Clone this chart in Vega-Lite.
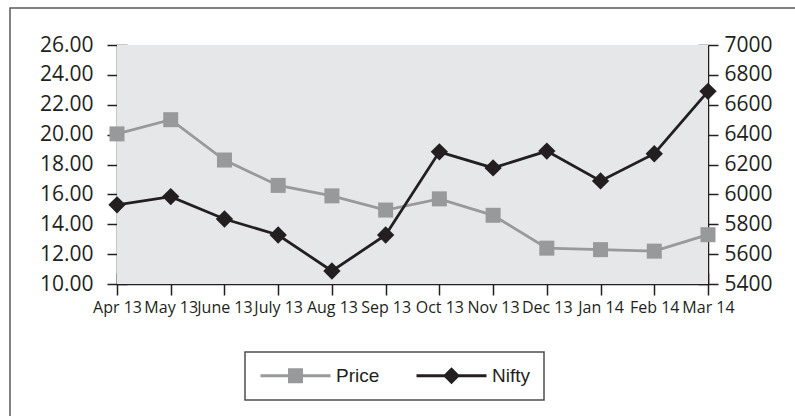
{
  "$schema": "https://vega.github.io/schema/vega-lite/v6.json",
  "width": 785,
  "height": 408,
  "autosize": {"type": "none"},
  "padding": {"left": 10, "top": 8, "right": 0, "bottom": 0},
  "background": "white",
  "config": {
    "view": {"fill": "white", "stroke": "#58595b", "strokeWidth": 1.5, "strokeDash": [785, 1193, 408]},
    "axis": {"domainColor": "#231f20", "tickColor": "#231f20", "domainWidth": 1.5, "tickWidth": 1.5, "grid": false, "title": null, "labelColor": "#231f20"}
  },
  "data": {
    "values": [
      {"month": "Apr 13", "price": 20.05, "nifty": 5930},
      {"month": "May 13", "price": 21.0, "nifty": 5985},
      {"month": "June 13", "price": 18.3, "nifty": 5835},
      {"month": "July 13", "price": 16.6, "nifty": 5728},
      {"month": "Aug 13", "price": 15.9, "nifty": 5487},
      {"month": "Sep 13", "price": 14.95, "nifty": 5728},
      {"month": "Oct 13", "price": 15.7, "nifty": 6285},
      {"month": "Nov 13", "price": 14.6, "nifty": 6177},
      {"month": "Dec 13", "price": 12.4, "nifty": 6290},
      {"month": "Jan 14", "price": 12.3, "nifty": 6090},
      {"month": "Feb 14", "price": 12.2, "nifty": 6272},
      {"month": "Mar 14", "price": 13.3, "nifty": 6690}
    ]
  },
  "layer": [
    {
      "mark": {"type": "rect", "color": "#e6e7e8"},
      "encoding": {
        "x": {"datum": "Apr 13", "type": "ordinal", "axis": null,
              "scale": {"type": "point", "padding": 0, "range": [107, 698],
                        "domain": ["Apr 13", "May 13", "June 13", "July 13", "Aug 13", "Sep 13", "Oct 13", "Nov 13", "Dec 13", "Jan 14", "Feb 14", "Mar 14"]}},
        "x2": {"datum": "Mar 14"},
        "y": {"datum": 10, "type": "quantitative", "scale": {"domain": [10, 26], "nice": false, "zero": false, "range": [276, 37]}, "axis": null},
        "y2": {"datum": 26}
      }
    },
    {
      "mark": {"type": "line", "strokeWidth": 2.8},
      "encoding": {
        "x": {"field": "month", "type": "ordinal",
              "axis": {"orient": "bottom", "offset": -132, "tickSize": 11, "labelPadding": 4, "labelAngle": 0, "labelFont": "Open Sans", "labelFontSize": 16, "labelOverlap": false, "labelBound": false}},
        "y": {"field": "price", "type": "quantitative", "scale": {"domain": [10, 26], "nice": false, "zero": false, "range": [276, 37]},
              "axis": {"orient": "left", "offset": -107, "values": [10, 12, 14, 16, 18, 20, 22, 24, 26], "format": ".2f", "tickSize": 10, "labelPadding": 14, "labelFont": "Open Sans", "labelFontSize": 21}},
        "color": {"datum": "Price", "type": "nominal",
          "scale": {"domain": ["Price", "Nifty"], "range": ["#97999b", "#231f20"]},
          "legend": {
            "orient": "none", "legendX": 235, "legendY": 344, "direction": "horizontal", "title": null,
            "symbolSize": 256, "symbolOffset": 27, "labelOffset": 31, "columnPadding": 35, "padding": 14,
            "labelFont": "Liberation Sans", "labelFontSize": 19, "labelColor": "#231f20",
            "strokeColor": "#4d4d4f", "fillColor": "white",
            "encode": {
              "symbols": {"update": {
                "shape": {"signal": "datum.value === 'Price' ? 'M-4.375,-0.19H4.375V0.19H-4.375Z M-0.94,-0.94H0.94V0.94H-0.94Z' : 'M-4.375,-0.19H4.375V0.19H-4.375Z M0,-1.06L1.06,0L0,1.06L-1.06,0Z'"},
                "fill": {"scale": "color", "field": "value"},
                "strokeWidth": {"value": 0}
              }},
              "legend": {"update": {"strokeWidth": {"value": 1.5}}}
            }
          }}
      }
    },
    {
      "mark": {"type": "point", "shape": "square", "size": 225, "filled": true, "opacity": 1},
      "encoding": {
        "x": {"field": "month", "type": "ordinal",
              "axis": {"orient": "bottom", "offset": -132, "tickSize": -11, "labels": false, "domain": false}},
        "y": {"field": "price", "type": "quantitative", "scale": {"domain": [10, 26], "nice": false, "zero": false, "range": [276, 37]},
              "axis": {"orient": "left", "offset": -107, "values": [10, 12, 14, 16, 18, 20, 22, 24, 26], "tickSize": -10, "labels": false, "domain": false}},
        "color": {"datum": "Price", "type": "nominal"}
      }
    },
    {
      "mark": {"type": "line", "strokeWidth": 2.8},
      "encoding": {
        "x": {"field": "month", "type": "ordinal", "axis": null},
        "y": {"field": "nifty", "type": "quantitative", "scale": {"domain": [5400, 7000], "nice": false, "zero": false, "range": [276, 37]},
              "axis": {"orient": "right", "offset": -87, "values": [5400, 5600, 5800, 6000, 6200, 6400, 6600, 6800, 7000], "format": "d", "tickSize": 10, "labelPadding": 6, "labelFont": "Open Sans", "labelFontSize": 21}},
        "color": {"datum": "Nifty", "type": "nominal"}
      }
    },
    {
      "mark": {"type": "point", "shape": "diamond", "size": 300, "filled": true, "opacity": 1},
      "encoding": {
        "x": {"field": "month", "type": "ordinal", "axis": null},
        "y": {"field": "nifty", "type": "quantitative", "scale": {"domain": [5400, 7000], "nice": false, "zero": false, "range": [276, 37]},
              "axis": {"orient": "right", "offset": -87, "values": [5400, 5600, 5800, 6000, 6200, 6400, 6600, 6800, 7000], "tickSize": -10, "labels": false, "domain": false}},
        "color": {"datum": "Nifty", "type": "nominal"}
      }
    }
  ],
  "resolve": {"scale": {"y": "independent"}, "axis": {"x": "independent", "y": "independent"}}
}
